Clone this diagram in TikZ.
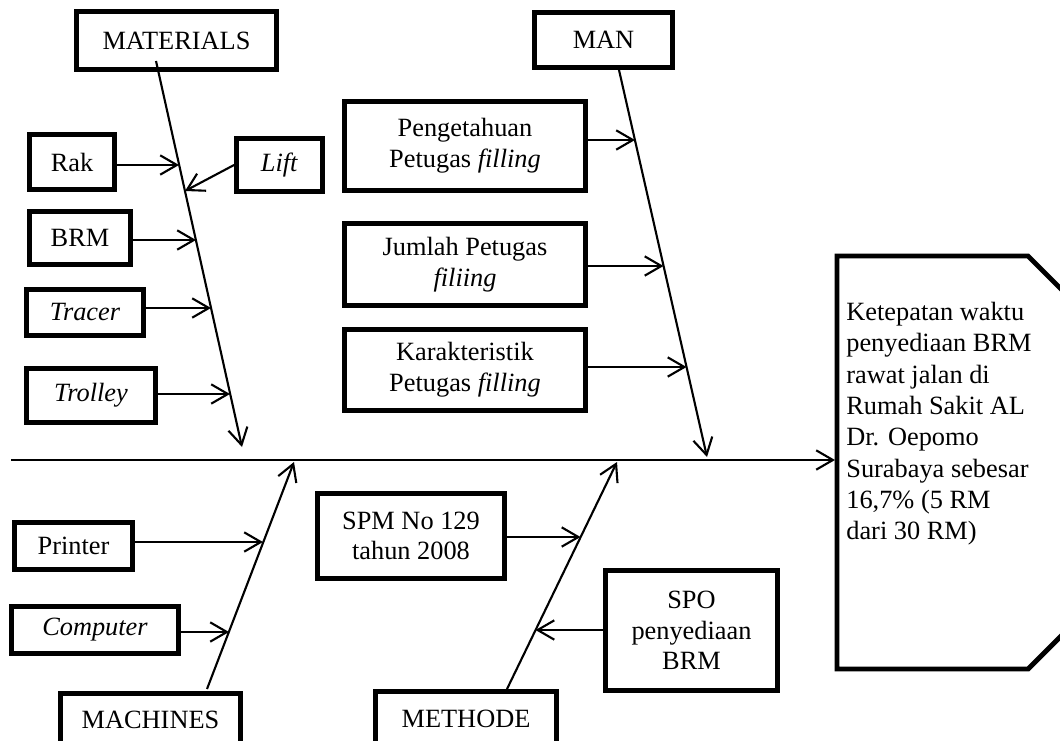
\documentclass[tikz,border=0pt]{standalone}
\usepackage{fontspec}
\setmainfont{Liberation Serif}
\usetikzlibrary{arrows.meta}

\begin{document}
\begin{tikzpicture}[x=0.02cm,y=-0.02cm,
    kotak/.style={draw,line width=2.8pt,inner sep=0pt,align=center,
      font=\fontsize{15}{17.5}\selectfont},
    panah/.style={line width=1.2pt,-{Straight Barb[length=9.5pt,width=11pt]}}]
  \useasboundingbox (0,0) rectangle (1060,740);
  \clip (0,0) rectangle (1060,740);

  % Kepala ikan (akibat)
  \draw[line width=2.8pt] (837,256) -- (1028,256) -- (1100,328) -- (1100,597)
    -- (1028,669) -- (837,669) -- cycle;
  \node[anchor=north west,inner sep=0pt,align=left,
    font=\fontsize{15}{17.8}\selectfont] (akibat) at (846,302)
    {Ketepatan waktu\\penyediaan BRM\\rawat jalan di\\Rumah Sakit AL\\
     Dr. Oepomo\\Surabaya sebesar\\16,7\% (5 RM\\dari 30 RM)};

  % Tulang utama
  \coordinate (ekor) at (11,460);
  \coordinate (kepala) at (835,460);
  \draw[panah] (ekor) -- (kepala);

  % MATERIALS
  \node[kotak,minimum width=4cm,minimum height=1.16cm] (bahan) at (176.5,40.5) {MATERIALS};
  \node[kotak,minimum width=1.7cm,minimum height=1.1cm] (rak) at (72,162) {Rak};
  \node[kotak,minimum width=1.72cm,minimum height=1.06cm] (lift) at (279.5,165) {\textit{Lift}};
  \node[kotak,minimum width=2.02cm,minimum height=1.06cm] (brm) at (80,238) {BRM};
  \node[kotak,minimum width=2.34cm,minimum height=0.92cm] (tracer) at (85,312.5) {\textit{Tracer}};
  \node[kotak,minimum width=2.58cm,minimum height=1.08cm] (trolley) at (91,395.5) {\textit{Trolley}};
  \coordinate (bahanA) at (156,61);
  \coordinate (bahanB) at (242,447);
  \coordinate (tRak) at (179,165);
  \coordinate (tLift) at (185,191);
  \coordinate (tBrm) at (196,240);
  \coordinate (tTracer) at (211,308);
  \coordinate (tTrolley) at (230,394);
  \draw[panah] (bahanA) -- (bahanB);
  \draw[panah] (rak.east |- tRak) -- (tRak);
  \draw[panah] (lift.west) -- (tLift);
  \draw[panah] (brm.east |- tBrm) -- (tBrm);
  \draw[panah] (tracer.east |- tTracer) -- (tTracer);
  \draw[panah] (trolley.east |- tTrolley) -- (tTrolley);

  % MAN
  \node[kotak,minimum width=2.76cm,minimum height=1.1cm] (manusia) at (603.5,40) {MAN};
  \node[kotak,minimum width=4.82cm,minimum height=1.78cm] (peng) at (465,146)
    {Pengetahuan\\Petugas \textit{filling}};
  \node[kotak,minimum width=4.82cm,minimum height=1.64cm] (jumlah) at (465,264.5)
    {Jumlah Petugas\\\textit{filiing}};
  \node[kotak,minimum width=4.82cm,minimum height=1.62cm] (karakter) at (465,370)
    {Karakteristik\\Petugas \textit{filling}};
  \coordinate (manA) at (619,70);
  \coordinate (manB) at (707,457);
  \coordinate (tPeng) at (635,140);
  \coordinate (tJumlah) at (663.5,266);
  \coordinate (tKarakter) at (686.5,367);
  \draw[panah] (manA) -- (manB);
  \draw[panah] (peng.east |- tPeng) -- (tPeng);
  \draw[panah] (jumlah.east |- tJumlah) -- (tJumlah);
  \draw[panah] (karakter.east |- tKarakter) -- (tKarakter);

  % MACHINES
  \node[kotak,minimum width=3.6cm,minimum height=1.06cm] (mesin) at (150.5,720) {MACHINES};
  \node[kotak,minimum width=2.36cm,minimum height=0.94cm] (printer) at (73.5,546) {Printer};
  \node[kotak,minimum width=3.34cm,minimum height=0.94cm] (komputer) at (95,630) {\textit{Computer}};
  \coordinate (mesinA) at (207,689);
  \coordinate (mesinB) at (294,462);
  \coordinate (tPrinter) at (263,542);
  \coordinate (tKomputer) at (229,632);
  \draw[panah] (mesinA) -- (mesinB);
  \draw[panah] (printer.east |- tPrinter) -- (tPrinter);
  \draw[panah] (komputer.east |- tKomputer) -- (tKomputer);

  % METHODE
  \node[kotak,minimum width=3.62cm,minimum height=1.08cm] (metode) at (466,718.5) {METHODE};
  \node[kotak,minimum width=3.74cm,minimum height=1.7cm] (spm) at (411,536)
    {SPM No 129\\tahun 2008};
  \node[kotak,minimum width=3.44cm,minimum height=2.4cm] (spo) at (691.5,630.5)
    {SPO\\penyediaan\\BRM};
  \coordinate (metodeA) at (507,689);
  \coordinate (metodeB) at (617,462);
  \coordinate (tSpm) at (580.5,537);
  \coordinate (tSpo) at (535.5,630);
  \draw[panah] (metodeA) -- (metodeB);
  \draw[panah] (spm.east |- tSpm) -- (tSpm);
  \draw[panah] (spo.west |- tSpo) -- (tSpo);
\end{tikzpicture}
\end{document}
